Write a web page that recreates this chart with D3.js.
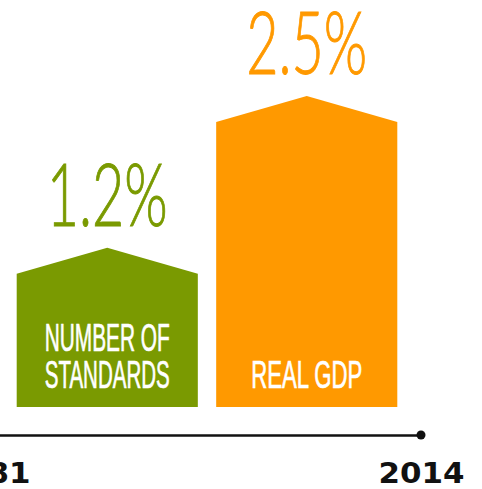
<!DOCTYPE html>
<html>
<head>
<meta charset="utf-8">
<script src="https://cdn.jsdelivr.net/npm/d3@7"></script>
<style>
  body { margin: 0; background: #fff; }
</style>
</head>
<body>
<div id="container"></div>
<script>
// data we work with
let categories = ["NUMBER OF STANDARDS", "REAL GDP"];
let labelLines = [["NUMBER OF", "STANDARDS"], ["REAL GDP"]];
let values = [1.2, 2.5];
let valueLabels = ["1.2%", "2.5%"];
let colors = ["#7a9a01", "#ff9900"];
let years = [1981, 2014];

let w = 482;
let h = 489;
let base = 407;
let roof = 26;

let viz = d3.select("#container")
  .append("svg")
    .attr("width", w)
    .attr("height", h)
;

let xScale = d3.scaleBand()
  .domain(categories)
  .range([16.7, 397.3])
  .paddingInner(0.092)
  .paddingOuter(0)
;
let yScale = d3.scaleLinear()
  .domain([0.06, 2.5])
  .range([base, 122])
;

let rows = categories.map(function(c, i){
  return {cat: c, value: values[i], label: valueLabels[i], lines: labelLines[i], color: colors[i]};
});

// house shaped bars
function housePath(d){
  let x0 = xScale(d.cat);
  let x1 = x0 + xScale.bandwidth();
  let xm = (x0 + x1) / 2;
  let top = yScale(d.value);
  return "M" + x0 + "," + base + "L" + x0 + "," + top + "L" + xm + "," + (top - roof)
    + "L" + x1 + "," + top + "L" + x1 + "," + base + "Z";
}

let bars = viz.selectAll("g.bar").data(rows).enter()
  .append("g").classed("bar", true);

bars.append("path")
  .attr("d", housePath)
  .attr("fill", function(d){ return d.color; });

// value on top
bars.append("text")
  .text(function(d){ return d.label; })
  .attr("x", function(d){ return xScale(d.cat) + xScale.bandwidth() / 2; })
  .attr("y", function(d){ return yScale(d.value) - roof - 22; })
  .attr("text-anchor", "middle")
  .attr("font-family", "Lato, 'Open Sans', sans-serif")
  .attr("font-weight", 300)
  .attr("font-size", 86)
  .attr("textLength", 121)
  .attr("lengthAdjust", "spacingAndGlyphs")
  .attr("stroke", function(d){ return d.color; })
  .attr("stroke-width", 1)
  .attr("fill", function(d){ return d.color; });

// category names inside the bars
bars.each(function(d){
  let g = d3.select(this);
  let n = d.lines.length;
  d.lines.forEach(function(line, k){
    g.append("text")
      .text(line)
      .attr("x", xScale(d.cat) + xScale.bandwidth() / 2)
      .attr("y", 388 - (n - 1 - k) * 37)
      .attr("text-anchor", "middle")
      .attr("font-family", "'Liberation Sans', sans-serif")
      .attr("font-size", 38)
      .attr("textLength", line.length * 13.9)
      .attr("lengthAdjust", "spacingAndGlyphs")
      .attr("stroke", "#fff")
      .attr("stroke-width", 0.7)
      .attr("fill", "#fff");
  });
});

// time axis
let xYear = d3.scaleLinear()
  .domain(d3.extent(years))
  .range([-13, 421]);

let xAxis = d3.axisBottom(xYear)
  .tickValues(years)
  .tickFormat(d3.format("d"))
  .tickSize(0)
  .tickPadding(27);

let xAxisGroup = viz.append("g").classed("xAxis", true)
  .attr("transform", "translate(0,435)")
  .call(xAxis);
xAxisGroup.select(".domain").attr("stroke", "#111").attr("stroke-width", 2.5);
xAxisGroup.selectAll("text")
  .attr("font-family", "'DejaVu Sans', sans-serif")
  .attr("font-weight", "bold")
  .attr("font-size", 29)
  .attr("fill", "#111")
  .attr("textLength", 86)
  .attr("lengthAdjust", "spacingAndGlyphs");

xAxisGroup.selectAll("circle.end").data(years).enter()
  .append("circle").classed("end", true)
  .attr("cx", xYear)
  .attr("cy", 0)
  .attr("r", 4.5)
  .attr("fill", "#111");
</script>
</body>
</html>
